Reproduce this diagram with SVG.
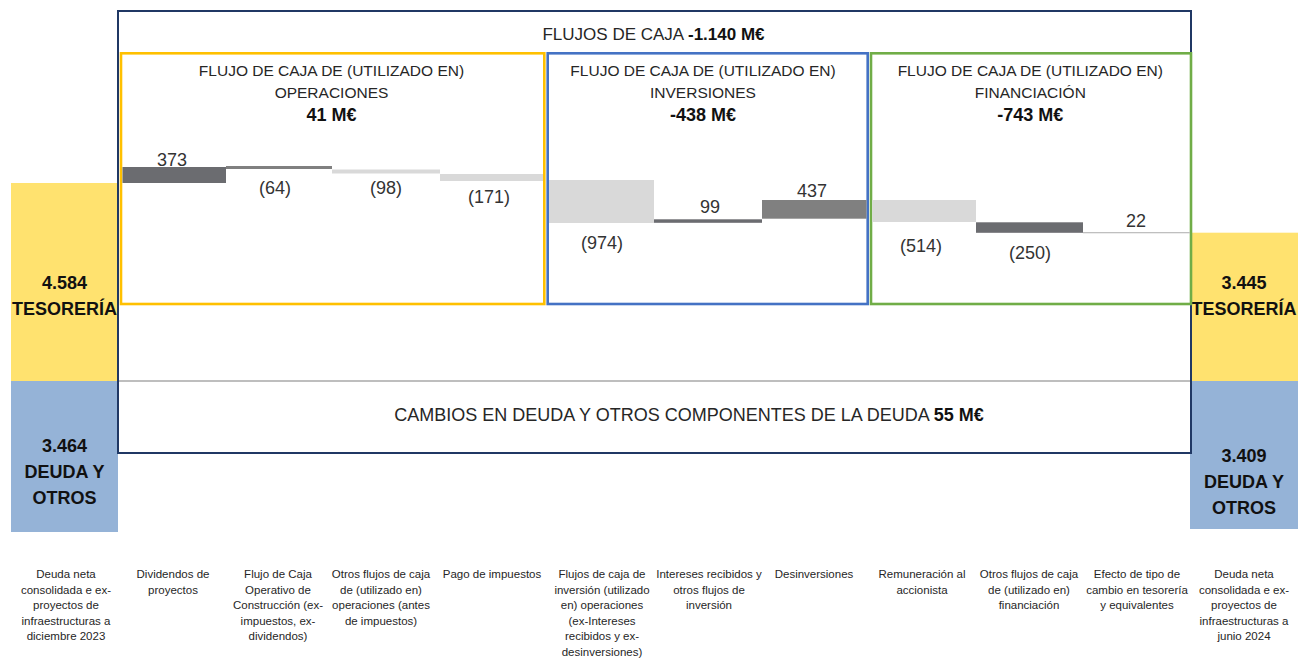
<svg xmlns="http://www.w3.org/2000/svg" width="1306" height="658" viewBox="0 0 1306 658">
  <style>
    text { font-family: "Liberation Sans", Arial, sans-serif; fill: #262626; }
    .hdr { font-size: 15.5px; text-anchor: middle; }
    .val { font-size: 18px; font-weight: bold; text-anchor: middle; fill: #111; }
    .num { font-size: 18px; text-anchor: middle; fill: #333; }
    .side { font-size: 18px; font-weight: bold; text-anchor: middle; fill: #111; }
    .lbl { font-size: 11.5px; text-anchor: middle; fill: #262626; }
    .panel { fill: none; stroke-width: 2.6; }
    .dark { fill: #6B6C70; }
    .mid { fill: #808080; }
    .light { fill: #D9D9D9; }
  </style>
  <rect x="0" y="0" width="1306" height="658" fill="#FFFFFF"/>

  <!-- left side boxes -->
  <g id="cash-start">
    <rect x="11" y="183" width="107" height="198" fill="#FFE26F"/>
    <text class="side" x="64.5" y="289">4.584</text>
    <text class="side" x="64.5" y="315">TESORERÍA</text>
  </g>
  <g id="debt-start">
    <rect x="11" y="381" width="107" height="151" fill="#95B3D7"/>
    <text class="side" x="64.5" y="451.5">3.464</text>
    <text class="side" x="64.5" y="478">DEUDA Y</text>
    <text class="side" x="64.5" y="504">OTROS</text>
  </g>

  <!-- right side boxes -->
  <g id="cash-end">
    <rect x="1190" y="232.7" width="108" height="148.3" fill="#FFE26F"/>
    <text class="side" x="1244" y="289">3.445</text>
    <text class="side" x="1244" y="315">TESORERÍA</text>
  </g>
  <g id="debt-end">
    <rect x="1190" y="381" width="108" height="148" fill="#95B3D7"/>
    <text class="side" x="1244" y="462">3.409</text>
    <text class="side" x="1244" y="488">DEUDA Y</text>
    <text class="side" x="1244" y="514">OTROS</text>
  </g>

  <!-- outer frame -->
  <g id="cash-flows-frame">
    <rect x="118" y="11" width="1073" height="442" fill="none" stroke="#203864" stroke-width="2"/>
    <line x1="119" y1="381" x2="1190" y2="381" stroke="#7F7F7F" stroke-width="1.2"/>
    <text x="653.5" y="40" style="font-size:17px;text-anchor:middle">FLUJOS DE CAJA <tspan style="font-weight:bold" fill="#111">-1.140 M€</tspan></text>
  </g>

  <g id="debt-changes">
    <text x="689" y="421" style="font-size:18px;text-anchor:middle">CAMBIOS EN DEUDA Y OTROS COMPONENTES DE LA DEUDA <tspan style="font-weight:bold" fill="#111">55 M€</tspan></text>
  </g>

  <!-- panels -->
  <g id="panel-operaciones">
    <rect class="panel" x="121" y="53.3" width="423.3" height="250.7" stroke="#FFC000"/>
    <text class="hdr" x="331.5" y="76">FLUJO DE CAJA DE (UTILIZADO EN)</text>
    <text class="hdr" x="331.5" y="97.5">OPERACIONES</text>
    <text class="val" x="331.5" y="120.5">41 M€</text>
  </g>
  <g id="panel-inversiones">
    <rect class="panel" x="547.7" y="53.3" width="320" height="250.7" stroke="#4472C4"/>
    <text class="hdr" x="703" y="76">FLUJO DE CAJA DE (UTILIZADO EN)</text>
    <text class="hdr" x="703" y="97.5">INVERSIONES</text>
    <text class="val" x="703" y="120.5">-438 M€</text>
  </g>
  <g id="panel-financiacion">
    <rect class="panel" x="871" y="53.3" width="320" height="250.7" stroke="#70AD47"/>
    <text class="hdr" x="1030.3" y="76">FLUJO DE CAJA DE (UTILIZADO EN)</text>
    <text class="hdr" x="1030.3" y="97.5">FINANCIACIÓN</text>
    <text class="val" x="1030.3" y="120.5">-743 M€</text>
  </g>

  <!-- waterfall bars -->
  <g id="bar-dividendos">
    <rect class="dark" x="122.5" y="167" width="103.5" height="16"/>
    <text class="num" x="172" y="165.5">373</text>
  </g>
  <g id="bar-construccion">
    <rect class="mid" x="226" y="166" width="106" height="3"/>
    <text class="num" x="275" y="194">(64)</text>
  </g>
  <g id="bar-otros-operaciones">
    <rect class="light" x="332" y="169.5" width="108" height="4"/>
    <text class="num" x="386" y="194">(98)</text>
  </g>
  <g id="bar-impuestos">
    <rect class="light" x="440" y="174" width="103" height="7"/>
    <text class="num" x="489" y="203">(171)</text>
  </g>
  <g id="bar-inversion">
    <rect class="light" x="549" y="180" width="105" height="43"/>
    <text class="num" x="602" y="249">(974)</text>
  </g>
  <g id="bar-intereses">
    <rect class="dark" x="654" y="219.3" width="108" height="3.5"/>
    <text class="num" x="710" y="213">99</text>
  </g>
  <g id="bar-desinversiones">
    <rect class="mid" x="762" y="200" width="104.5" height="18.7"/>
    <text class="num" x="812" y="197">437</text>
  </g>
  <g id="bar-remuneracion">
    <rect class="light" x="872.3" y="200" width="103.7" height="22"/>
    <text class="num" x="921" y="252">(514)</text>
  </g>
  <g id="bar-otros-financiacion">
    <rect class="dark" x="976" y="222.3" width="107" height="10.5"/>
    <text class="num" x="1030" y="259">(250)</text>
  </g>
  <g id="bar-tipo-cambio">
    <rect fill="#BFBFBF" x="1083" y="232" width="107" height="1.3"/>
    <text class="num" x="1136" y="227">22</text>
  </g>

  <!-- category labels -->
  <g id="labels">
    <text class="lbl" x="66" y="578">Deuda neta</text>
    <text class="lbl" x="66" y="593.5">consolidada e ex-</text>
    <text class="lbl" x="66" y="609">proyectos de</text>
    <text class="lbl" x="66" y="624.5">infraestructuras a</text>
    <text class="lbl" x="66" y="640">diciembre 2023</text>

    <text class="lbl" x="173" y="578">Dividendos de</text>
    <text class="lbl" x="173" y="593.5">proyectos</text>

    <text class="lbl" x="278" y="578">Flujo de Caja</text>
    <text class="lbl" x="278" y="593.5">Operativo de</text>
    <text class="lbl" x="278" y="609">Construcción (ex-</text>
    <text class="lbl" x="278" y="624.5">impuestos, ex-</text>
    <text class="lbl" x="278" y="640">dividendos)</text>

    <text class="lbl" x="381" y="578">Otros flujos de caja</text>
    <text class="lbl" x="381" y="593.5">de (utilizado en)</text>
    <text class="lbl" x="381" y="609">operaciones (antes</text>
    <text class="lbl" x="381" y="624.5">de impuestos)</text>

    <text class="lbl" x="492" y="578">Pago de impuestos</text>

    <text class="lbl" x="602" y="578">Flujos de caja de</text>
    <text class="lbl" x="602" y="593.5">inversión (utilizado</text>
    <text class="lbl" x="602" y="609">en) operaciones</text>
    <text class="lbl" x="602" y="624.5">(ex-Intereses</text>
    <text class="lbl" x="602" y="640">recibidos y ex-</text>
    <text class="lbl" x="602" y="655.5">desinversiones)</text>

    <text class="lbl" x="709" y="578">Intereses recibidos y</text>
    <text class="lbl" x="709" y="593.5">otros flujos de</text>
    <text class="lbl" x="709" y="609">inversión</text>

    <text class="lbl" x="814" y="578">Desinversiones</text>

    <text class="lbl" x="922" y="578">Remuneración al</text>
    <text class="lbl" x="922" y="593.5">accionista</text>

    <text class="lbl" x="1029" y="578">Otros flujos de caja</text>
    <text class="lbl" x="1029" y="593.5">de (utilizado en)</text>
    <text class="lbl" x="1029" y="609">financiación</text>

    <text class="lbl" x="1137" y="578">Efecto de tipo de</text>
    <text class="lbl" x="1137" y="593.5">cambio en tesorería</text>
    <text class="lbl" x="1137" y="609">y equivalentes</text>

    <text class="lbl" x="1244" y="578">Deuda neta</text>
    <text class="lbl" x="1244" y="593.5">consolidada e ex-</text>
    <text class="lbl" x="1244" y="609">proyectos de</text>
    <text class="lbl" x="1244" y="624.5">infraestructuras a</text>
    <text class="lbl" x="1244" y="640">junio 2024</text>
  </g>
</svg>
